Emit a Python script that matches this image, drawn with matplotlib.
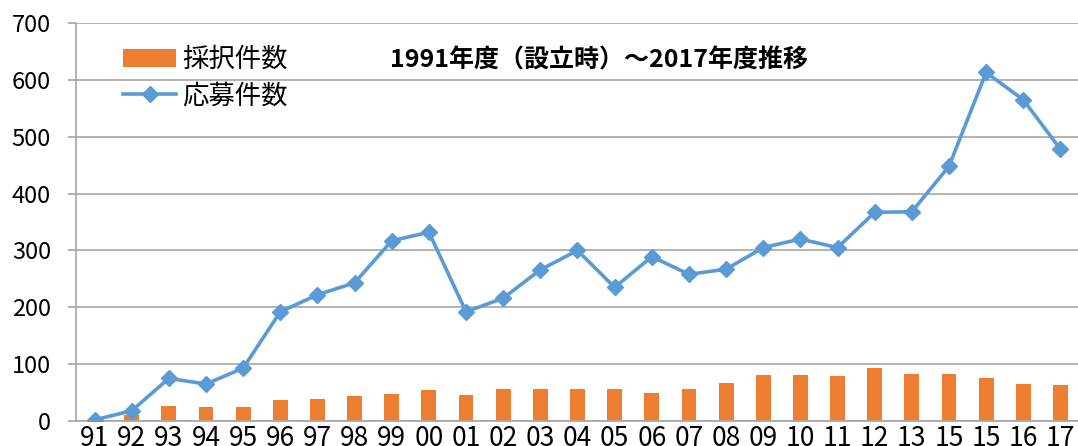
import numpy as np
import matplotlib.pyplot as plt

plt.rcParams['font.family'] = ['Noto Sans CJK JP', 'DejaVu Sans']

years = ['91', '92', '93', '94', '95', '96', '97', '98', '99', '00', '01', '02', '03', '04',
         '05', '06', '07', '08', '09', '10', '11', '12', '13', '15', '15', '16', '17']
adopted = [0, 10, 26, 25, 25, 37, 39, 44, 48, 55, 46, 57, 56, 56,
           57, 49, 57, 66, 81, 81, 79, 93, 82, 82, 76, 65, 63]
applied = [2, 18, 75, 65, 93, 192, 222, 243, 317, 332, 192, 216, 266, 300,
           235, 289, 258, 267, 305, 320, 305, 367, 368, 448, 613, 565, 478]

blue = '#5B9BD5'
orange = '#ED7D31'
grid = '#A6A6A6'

fig = plt.figure(figsize=(10.78, 4.46), dpi=100)
ax = fig.add_axes([76 / 1078, 25 / 446, 1003 / 1078, 398 / 446])

x = np.arange(len(years))
bars = ax.bar(x, adopted, width=0.4, color=orange, label='採択件数', zorder=2)
line, = ax.plot(x, applied, color=blue, lw=2.6, marker='D', ms=8.5, label='応募件数', zorder=3)

ax.set_xlim(-0.5, len(years) - 0.5)
ax.set_ylim(0, 700)
ax.set_yticks(range(0, 701, 100))
ax.set_xticks(x)
ax.set_xticklabels(years)
ax.grid(axis='y', color=grid, lw=1.2, zorder=0)
ax.set_axisbelow(True)

for s in ['top', 'right']:
    ax.spines[s].set_visible(False)
ax.spines['left'].set_color(grid)
ax.spines['bottom'].set_color(grid)
ax.spines['left'].set_linewidth(1.2)
ax.spines['bottom'].set_linewidth(1.2)
ax.tick_params(axis='y', length=6, color=grid, width=1.2, labelsize=17, pad=12)
ax.tick_params(axis='x', length=0, labelsize=19, pad=3)

ax.legend([bars, line], ['採択件数', '応募件数'], loc='upper left',
          bbox_to_anchor=(110 / 1078, 1 - 33 / 446),
          bbox_transform=fig.transFigure, frameon=False, fontsize=19,
          handlelength=2.0, handletextpad=0.25, labelspacing=0.35, borderpad=0)

fig.text(390 / 1078, 1 - 60 / 446, '1991年度（設立時）～2017年度推移', fontsize=18,
         fontweight='bold', va='center', ha='left')

fig.savefig('out.png', dpi=100)
